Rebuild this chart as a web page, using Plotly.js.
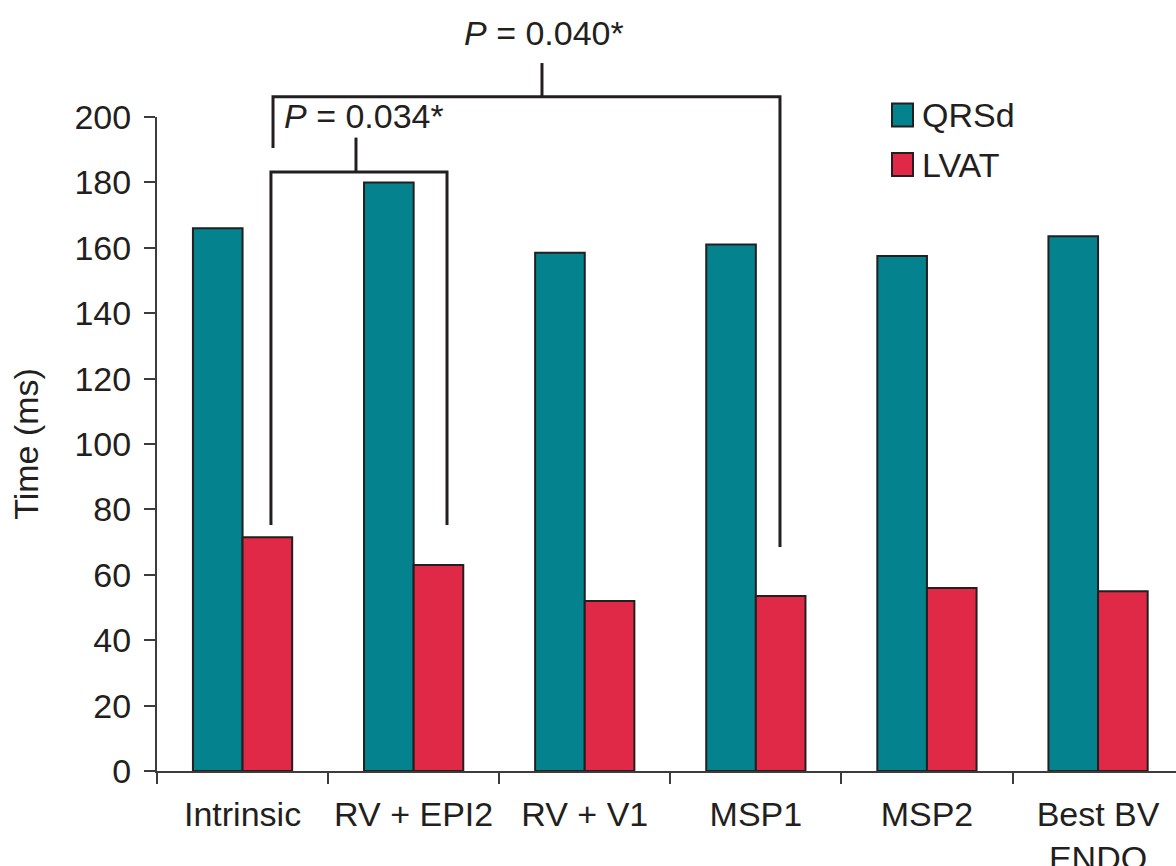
<!DOCTYPE html>
<html>
<head>
<meta charset="utf-8">
<script src="https://cdn.plot.ly/plotly-3.0.1.min.js"></script>
<style>
  html, body { margin: 0; padding: 0; background: #ffffff; }
  #chart { width: 1176px; height: 866px; }
</style>
</head>
<body>
<div id="chart"></div>
<script>
// Pacing modes and the two measured intervals (ms)
const categories = ['Intrinsic', 'RV + EPI2', 'RV + V1', 'MSP1', 'MSP2', 'Best BV<br>ENDO'];
const qrsd = [166, 180, 158.5, 161, 157.5, 163.5];
const lvat = [71.5, 63, 52, 53.5, 56, 55];
const seriesNames = ['QRSd', 'LVAT'];
const yTickValues = [0, 20, 40, 60, 80, 100, 120, 140, 160, 180, 200];

// Pairwise comparisons shown with brackets
const comparisons = [[0, 1], [0, 3]];
const pValues = ['0.034*', '0.040*'];

const TEAL = '#04838F';
const RED = '#E02946';
const INK = '#231F20';
const AXIS = '#3C3C3C';
const FONT = '"Liberation Sans", Arial, Helvetica, sans-serif';

const W = 1176, H = 866;
const M = { l: 157, r: 0, t: 117, b: 95 };
const Y_MAX = 200;
const plotW = W - M.l - M.r;
const plotH = H - M.t - M.b;

// y in data units -> paper fraction (lets bracket parts rise above the axis top)
const yp = v => v / Y_MAX;
// pixel helpers for the hand-placed legend
const pxX = px => (px - M.l) / plotW;
const pxY = py => (H - M.b - py) / plotH;

const traces = [
  {
    type: 'bar', name: seriesNames[0], x: categories, y: qrsd,
    marker: { color: TEAL, line: { color: INK, width: 2 } },
    hoverinfo: 'x+y+name'
  },
  {
    type: 'bar', name: seriesNames[1], x: categories, y: lvat,
    marker: { color: RED, line: { color: INK, width: 2 } },
    hoverinfo: 'x+y+name'
  }
];

// Bracket geometry: leg offsets are relative to each category index
const bracketGeom = [
  { leftX: comparisons[0][0] + 0.166, rightX: comparisons[0][1] + 0.195,
    barY: 183.2, leftEnd: 75.2, rightEnd: 75.2,
    stemX: 0.663, stemTop: 193.7, labelX: 0.707, labelY: 200.2 },
  { leftX: comparisons[1][0] + 0.178, rightX: comparisons[1][1] + 0.141,
    barY: 206.2, leftEnd: 190.5, rightEnd: 68.5,
    stemX: 1.75, stemTop: 216.5, labelX: 1.759, labelY: 225.8 }
];

const shapes = [];
const annotations = [];

bracketGeom.forEach((g, i) => {
  shapes.push({
    type: 'path', xref: 'x', yref: 'paper', layer: 'above',
    path: `M ${g.leftX},${yp(g.leftEnd)} L ${g.leftX},${yp(g.barY)} L ${g.rightX},${yp(g.barY)} L ${g.rightX},${yp(g.rightEnd)}`,
    line: { color: INK, width: 3 }
  });
  shapes.push({
    type: 'line', xref: 'x', yref: 'paper', layer: 'above',
    x0: g.stemX, x1: g.stemX, y0: yp(g.barY), y1: yp(g.stemTop),
    line: { color: INK, width: 3 }
  });
  annotations.push({
    xref: 'x', yref: 'paper', x: g.labelX, y: yp(g.labelY),
    xanchor: 'center', yanchor: 'middle', showarrow: false,
    text: '<i>P</i> = ' + pValues[i],
    font: { family: FONT, size: 34, color: INK }
  });
});

// Legend swatches and labels
const legendColors = [TEAL, RED];
const legendRows = [115, 164.5];
seriesNames.forEach((name, i) => {
  const cy = legendRows[i];
  shapes.push({
    type: 'rect', xref: 'paper', yref: 'paper', layer: 'above',
    x0: pxX(892), x1: pxX(913), y0: pxY(cy - 11.5), y1: pxY(cy + 11.5),
    fillcolor: legendColors[i], line: { color: INK, width: 2 }
  });
  annotations.push({
    xref: 'paper', yref: 'paper', x: pxX(920), y: pxY(cy),
    xanchor: 'left', yanchor: 'middle', showarrow: false,
    text: name, font: { family: FONT, size: 34, color: INK }
  });
});

const layout = {
  width: W, height: H,
  margin: M,
  paper_bgcolor: '#ffffff', plot_bgcolor: '#ffffff',
  font: { family: FONT, size: 34, color: INK },
  showlegend: false,
  barmode: 'group', bargap: 0.42, bargroupgap: 0,
  xaxis: {
    type: 'category', range: [-0.5, plotW / 171.1 - 0.5],
    showline: true, linecolor: AXIS, linewidth: 2,
    ticks: 'outside', tickson: 'boundaries', ticklen: 11, tickwidth: 2, tickcolor: AXIS,
    showgrid: false, zeroline: false, ticklabelstandoff: 12,
    tickfont: { family: FONT, size: 34, color: INK }
  },
  yaxis: {
    range: [0, Y_MAX], tickvals: yTickValues, ticktext: yTickValues.map(String),
    showline: true, linecolor: AXIS, linewidth: 2,
    ticks: 'outside', ticklen: 11, tickwidth: 2, tickcolor: AXIS,
    showgrid: false, zeroline: false, ticklabelstandoff: 6,
    tickfont: { family: FONT, size: 34, color: INK },
    title: { text: 'Time (ms)', font: { family: FONT, size: 34, color: INK }, standoff: 26 }
  },
  shapes: shapes,
  annotations: annotations
};

Plotly.newPlot('chart', traces, layout, { displayModeBar: false, responsive: false });
</script>
</body>
</html>
